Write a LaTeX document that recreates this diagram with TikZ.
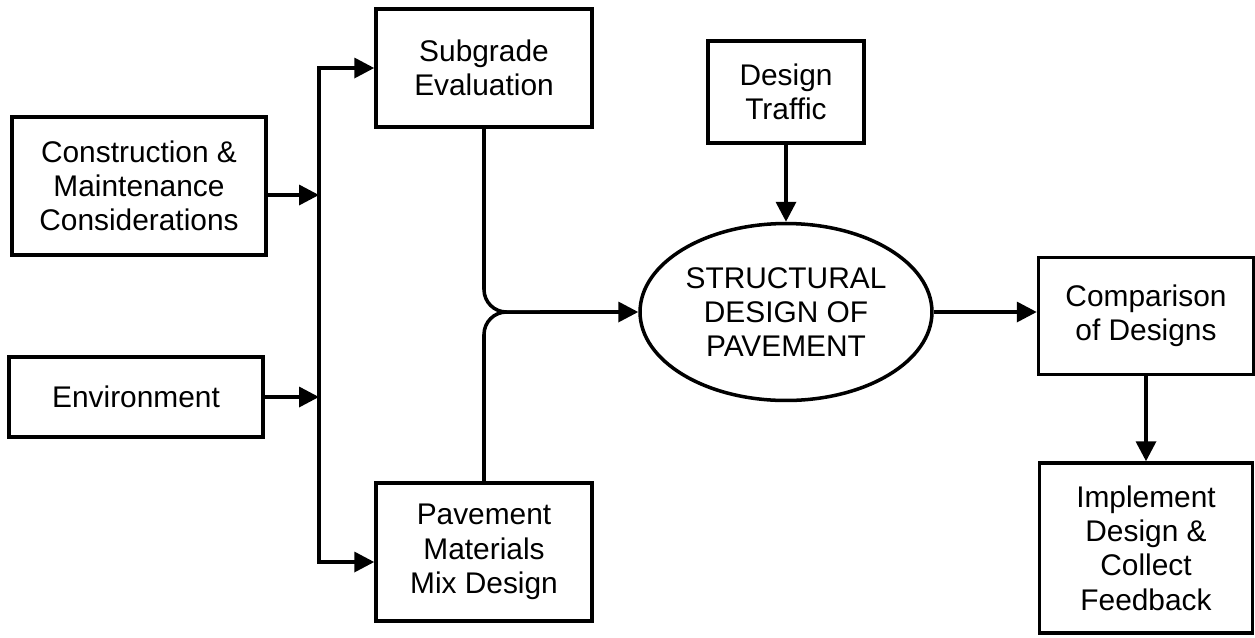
\documentclass[tikz,border=0pt]{standalone}
\usepackage{fontspec}
\setmainfont{Liberation Sans}
\usetikzlibrary{arrows.meta,shapes.geometric}

\begin{document}
\begin{tikzpicture}[x=0.02cm,y=-0.02cm,line width=2pt,
    >={Triangle[length=0.4cm,width=0.4cm]},
    font=\fontsize{17}{19.5}\selectfont]
        \tikzstyle{block}=[draw,rectangle,align=center,inner sep=2pt]
        \useasboundingbox (0,0) rectangle (1255,637);

        % inputs on the left
        \node[block,minimum width=5.08cm,minimum height=2.76cm] (cons) at (139,186) {Construction \&\\Maintenance\\Considerations};
        \node[block,minimum width=5.08cm,minimum height=1.6cm] (env) at (136,397) {Environment};
        \node[block,minimum width=4.32cm,minimum height=2.36cm] (sub) at (484,68) {Subgrade\\Evaluation};
        \node[block,minimum width=4.32cm,minimum height=2.76cm] (pav) at (484,552) {Pavement\\Materials\\Mix Design};
        \node[block,minimum width=3.12cm,minimum height=2.04cm] (traf) at (786,92) {Design\\Traffic};

        % centre and output
        \node[draw,ellipse,align=center,minimum width=5.84cm,minimum height=3.54cm,inner sep=0pt] (struc) at (786,312) {STRUCTURAL\\DESIGN OF\\PAVEMENT};
        \node[block,minimum width=4.3cm,minimum height=2.34cm] (comp) at (1146,316) {Comparison\\of Designs};
        \node[block,minimum width=4.26cm,minimum height=3.4cm] (impl) at (1146,548) {Implement\\Design \&\\Collect\\Feedback};

        \coordinate (bb) at (319,562);
        \coordinate (cj) at (319,195);
        \coordinate (jn) at (540,312);

        \draw[<->] (sub.west) -| (bb) -- (bb -| pav.west);
        \draw[->] (cj -| cons.east) -- (cj);
        \draw[->] (env.east) -- (env.east -| bb);

        \foreach \from in {sub.south,pav.north}
          { \draw[rounded corners=0.45cm] (\from) |- (jn); }
        \draw[->] (jn) -- (struc.west);

        \draw[->] (traf) -- (struc);
        \draw[->] (struc.east) -- (struc.east -| comp.west);
        \draw[->] (comp) -- (impl);
      \end{tikzpicture}
\end{document}
